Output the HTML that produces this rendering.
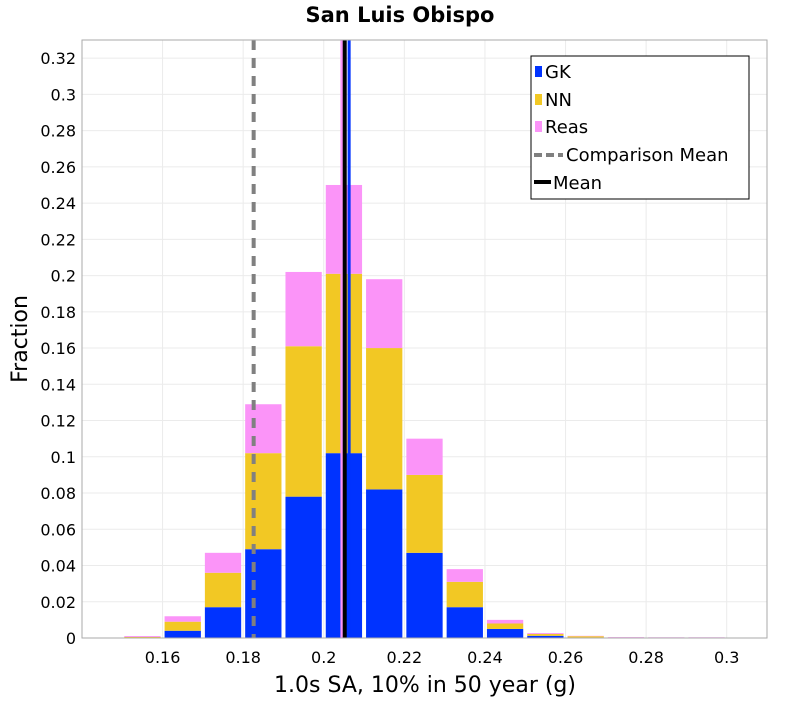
<!DOCTYPE html>
<html><head><meta charset="utf-8"><style>
body{margin:0;background:#fff;font-family:"Liberation Sans","DejaVu Sans",sans-serif}
svg text{font-family:"DejaVu Sans","Liberation Sans",sans-serif}
</style></head><body>
<svg id="chart" width="800" height="700" xmlns="http://www.w3.org/2000/svg">
<text x="400" y="22" text-anchor="middle" font-size="21" font-weight="bold">San Luis Obispo</text>
<g id="grid"></g><g id="bars"></g><g id="lines"></g><g id="axes"></g>
<rect x="82" y="40" width="685" height="598" fill="none" stroke="#aaa"/>
<text x="425" y="692" text-anchor="middle" font-size="22">1.0s SA, 10% in 50 year (g)</text>
<text transform="translate(27,339) rotate(-90)" text-anchor="middle" font-size="22">Fraction</text>
<g>
<rect x="531" y="56" width="218" height="143" fill="#fff" stroke="#000"/>
<g><rect x="535" y="66" width="7" height="11" fill="#0033ff"/><text x="545" y="78" font-size="18">GK</text></g>
<g><rect x="535" y="94" width="7" height="11" fill="#f2c824"/><text x="545" y="106" font-size="18">NN</text></g>
<g><rect x="535" y="121" width="7" height="11" fill="#fb94f8"/><text x="545" y="133" font-size="18">Reas</text></g>
<g><line x1="534" y1="155" x2="563" y2="155" stroke="#808080" stroke-width="4" stroke-dasharray="8,4"/><text x="566" y="161" font-size="18">Comparison Mean</text></g>
<g><line x1="534" y1="182" x2="551" y2="182" stroke="#000" stroke-width="4"/><text x="553" y="189" font-size="18">Mean</text></g>
</g>
</svg>
<script>
const binCenters=[0.155,0.165,0.175,0.185,0.195,0.205,0.215,0.225,0.235,0.245,0.255,0.265,0.275,0.285,0.295];
const gk=[0.0002,0.004,0.017,0.049,0.078,0.102,0.082,0.047,0.017,0.005,0.0012,0.0003,0.0001,0.0001,0.0001];
const nn=[0.0004,0.005,0.019,0.053,0.083,0.099,0.078,0.043,0.014,0.003,0.001,0.0007,0.0002,0.0001,0.0001];
const reas=[0.0005,0.003,0.011,0.027,0.041,0.049,0.038,0.020,0.007,0.002,0.0005,0.0002,0.0002,0.0002,0.0002];
const xTicks=[0.16,0.18,0.2,0.22,0.24,0.26,0.28,0.3];
const xTickLabels=["0.16","0.18","0.2","0.22","0.24","0.26","0.28","0.3"];
const yTicks=[0,0.02,0.04,0.06,0.08,0.1,0.12,0.14,0.16,0.18,0.2,0.22,0.24,0.26,0.28,0.3,0.32];
const yTickLabels=["0","0.02","0.04","0.06","0.08","0.1","0.12","0.14","0.16","0.18","0.2","0.22","0.24","0.26","0.28","0.3","0.32"];
const binWidth=0.01;
const meanValue=0.2052, gkMean=0.2058, reasMean=0.2045, comparisonMean=0.1826;
const X0=82,X1=767,Y0=638,Y1=40,xmin=0.14,xmax=0.31,ymin=0,ymax=0.33;
const sx=v=>X0+(v-xmin)/(xmax-xmin)*(X1-X0);
const sy=v=>Y0-(v-ymin)/(ymax-ymin)*(Y0-Y1);
const NS="http://www.w3.org/2000/svg";
function mk(tag,attrs,parent){const e=document.createElementNS(NS,tag);for(const k in attrs)e.setAttribute(k,attrs[k]);document.getElementById(parent).appendChild(e);return e;}
xTicks.forEach((t,i)=>{
 const g=mk('line',{x1:sx(t),x2:sx(t),y1:Y1,y2:Y0,stroke:'#ebebeb'},'grid');
 
 
 const l=mk('text',{x:sx(t),y:663,'text-anchor':'middle','font-size':16},'axes');
 l.textContent=xTickLabels[i];
 
 
});
yTicks.forEach((t,i)=>{
 const g=mk('line',{x1:X0,x2:X1,y1:sy(t),y2:sy(t),stroke:'#ebebeb'},'grid');
 
 
 const l=mk('text',{x:76,y:sy(t)+6,'text-anchor':'end','font-size':16},'axes');
 l.textContent=yTickLabels[i];
 
 
});
binCenters.forEach((c,i)=>{
 const xa=sx(c-binWidth/2)+2, w=sx(c+binWidth/2)-sx(c-binWidth/2)-4;
 let base=0;
 [[gk,'#0033ff','gk'],[nn,'#f2c824','nn'],[reas,'#fb94f8','reas']].forEach(([arr,col,nm])=>{
  const top=base+arr[i];
  const r=mk('rect',{x:xa,y:sy(top),width:w,height:Math.max(0,sy(base)-sy(top)),fill:col},'bars');
  
  
  base=top;
 });
});
const lr=mk('line',{x1:sx(reasMean),x2:sx(reasMean),y1:Y1,y2:Y0,stroke:'#fb94f8','stroke-width':3},'lines');


const lg=mk('line',{x1:sx(gkMean)+2,x2:sx(gkMean)+2,y1:Y1,y2:Y0,stroke:'#0033ff','stroke-width':3},'lines');


const lm=mk('line',{x1:sx(meanValue),x2:sx(meanValue),y1:Y1,y2:Y0,stroke:'#000','stroke-width':4},'lines');


const lc=mk('line',{x1:sx(comparisonMean),x2:sx(comparisonMean),y1:Y1,y2:Y0,stroke:'#808080','stroke-width':4,'stroke-dasharray':'10,8'},'lines');


</script>
</body></html>
